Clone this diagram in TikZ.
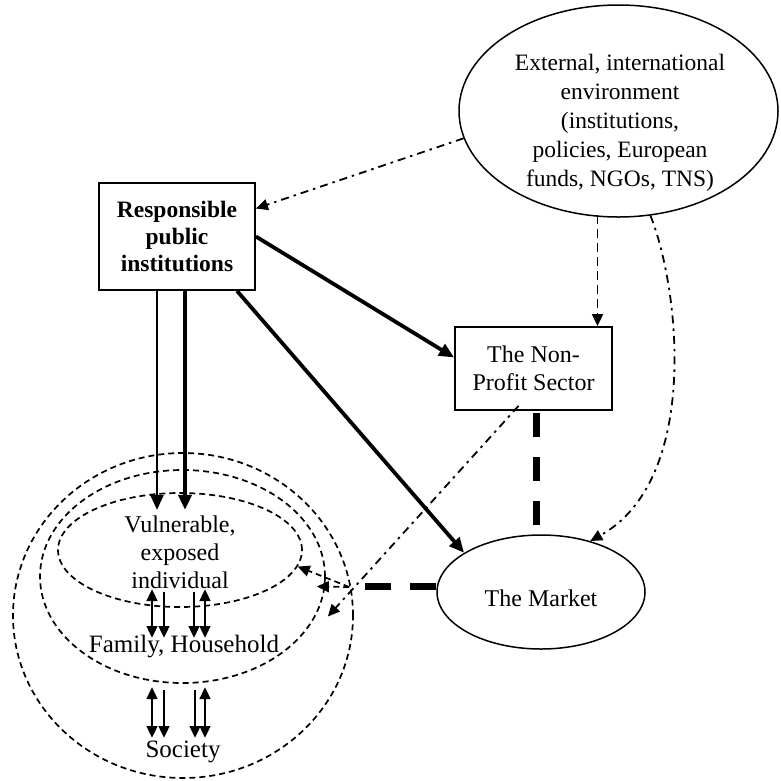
\documentclass[tikz,border=0pt]{standalone}
\usepackage{fontspec}
\setmainfont{Liberation Serif}
\usetikzlibrary{shapes.geometric,arrows.meta,calc}
\begin{document}
\begin{tikzpicture}[x=1pt,y=-1pt,
  BigT/.tip={Triangle[length=15pt,width=13pt]},
  DdT/.tip={Triangle[length=12pt,width=11pt]},
  SmT/.tip={Triangle[length=12pt,width=10.5pt]},
  txt/.style={font=\fontsize{24}{28}\selectfont, align=center, inner sep=0pt},
  boxnode/.style={draw, rectangle, line width=1.8pt, txt},
  ell/.style={draw, ellipse, line width=1.5pt, inner sep=0pt},
  dell/.style={draw, ellipse, line width=1.7pt, dash pattern=on 6pt off 4pt, inner sep=0pt},
  solidarrow/.style={line width=3.8pt, -BigT},
  dashdotarrow/.style={line width=1.8pt, dash pattern=on 8pt off 5pt on 2.5pt off 5pt, -DdT},
  dasharrow/.style={line width=1.8pt, dash pattern=on 9pt off 5pt, -DdT},
  thindasharrow/.style={line width=1.7pt, dash pattern=on 6pt off 4pt, -DdT},
  thickdash/.style={line width=7pt, dash pattern=on 24pt off 20pt},
  smallarr/.style={line width=2.8pt}
]
\useasboundingbox (0,0) rectangle (781,780);

% main nodes
\node[boxnode, minimum width=156pt, minimum height=107pt,
      font=\bfseries\fontsize{23.5}{27}\selectfont] (resp) at (177,236.5) {Responsible\\public\\institutions};
\node[boxnode, minimum width=157pt, minimum height=83pt] (np) at (533.5,368.5) {The Non-\\Profit Sector};
\node[ell, minimum width=319pt, minimum height=212pt] (ext) at (618.5,111) {};
\node[txt, font=\fontsize{23.5}{29}\selectfont] (extT) at (620,123) {External, international\\environment\\(institutions,\\policies, European\\funds, NGOs, TNS)};
\node[ell, minimum width=208pt, minimum height=114pt] (market) at (541,592) {};
\node[txt] (marketT) at (541,598) {The Market};

% nested dashed ellipses
\node[dell, minimum width=340pt, minimum height=325pt] (socE) at (183,615.5) {};
\node[dell, minimum width=285pt, minimum height=213pt] (famE) at (182.5,576.5) {};
\node[dell, minimum width=244pt, minimum height=114pt] (vulE) at (180,550) {};
\node[txt] (vulT) at (180,552) {Vulnerable,\\exposed\\individual};
\node[txt, font=\fontsize{25}{28}\selectfont] (famT) at (184,647) {Family, Household};
\node[txt, font=\fontsize{25}{28}\selectfont] (socT) at (183,752) {Society};

% connectors from the external environment
\draw[dashdotarrow] (ext.190) -- ($(resp.east)+(0,-28)$);
\draw[dasharrow] ($(np.north)+(64,-111)$) -- ($(np.north)+(64,0)$);
\draw[dashdotarrow] (ext.-73) .. controls (680,290) and (700,480) .. (market.46);

% connectors from the responsible institutions
\draw[solidarrow] (resp.east) -- ($(np.west)+(0,-11)$);
\draw[solidarrow] ($(resp.south)+(60,0)$) -- (market.153);
\draw[line width=2.6pt, -BigT] ($(resp.south)+(-20,0)$) -- ($(resp.south)+(-20,219)$);
\draw[line width=3.8pt, -BigT] ($(resp.south)+(8,0)$) -- ($(resp.south)+(8,219)$);

% non-profit / market
\draw[thickdash] ($(np.south)+(2.5,2)$) -- ($(np.south)+(2.5,125)$);
\draw[thickdash, dash pattern=on 26pt off 19pt] ($(market.west)+(0,-6)$) -- ($(market.west)+(-71,-6)$);
\coordinate (j) at ($(market.west)+(-87,-5)$);
\draw[thindasharrow] (j) -- (vulE.-8);
\draw[thindasharrow] (j) -- ($(famE.east)+(-9,10)$);
\draw[dashdotarrow] ($(np.south)+(-15,-5)$) -- ($(famE.east)+(2,40)$);

% small arrows between individual, family and society
\coordinate (p1a) at (152,589); \coordinate (p1b) at (152,638);
\coordinate (p2a) at (164,592); \coordinate (p2b) at (164,638);
\coordinate (p3a) at (194,592); \coordinate (p3b) at (194,638);
\coordinate (p4a) at (205,589); \coordinate (p4b) at (205,638);
\coordinate (q1a) at (152,687); \coordinate (q1b) at (152,738);
\coordinate (q2a) at (164,690); \coordinate (q2b) at (164,738);
\coordinate (q3a) at (195,690); \coordinate (q3b) at (195,738);
\coordinate (q4a) at (205,687); \coordinate (q4b) at (205,738);
\draw[smallarr, SmT-SmT] (p1a) -- (p1b);
\draw[smallarr, -SmT] (p2a) -- (p2b);
\draw[smallarr, -SmT] (p3a) -- (p3b);
\draw[smallarr, SmT-SmT] (p4a) -- (p4b);
\draw[smallarr, SmT-SmT] (q1a) -- (q1b);
\draw[smallarr, -SmT] (q2a) -- (q2b);
\draw[smallarr, -SmT] (q3a) -- (q3b);
\draw[smallarr, SmT-SmT] (q4a) -- (q4b);
\end{tikzpicture}
\end{document}
